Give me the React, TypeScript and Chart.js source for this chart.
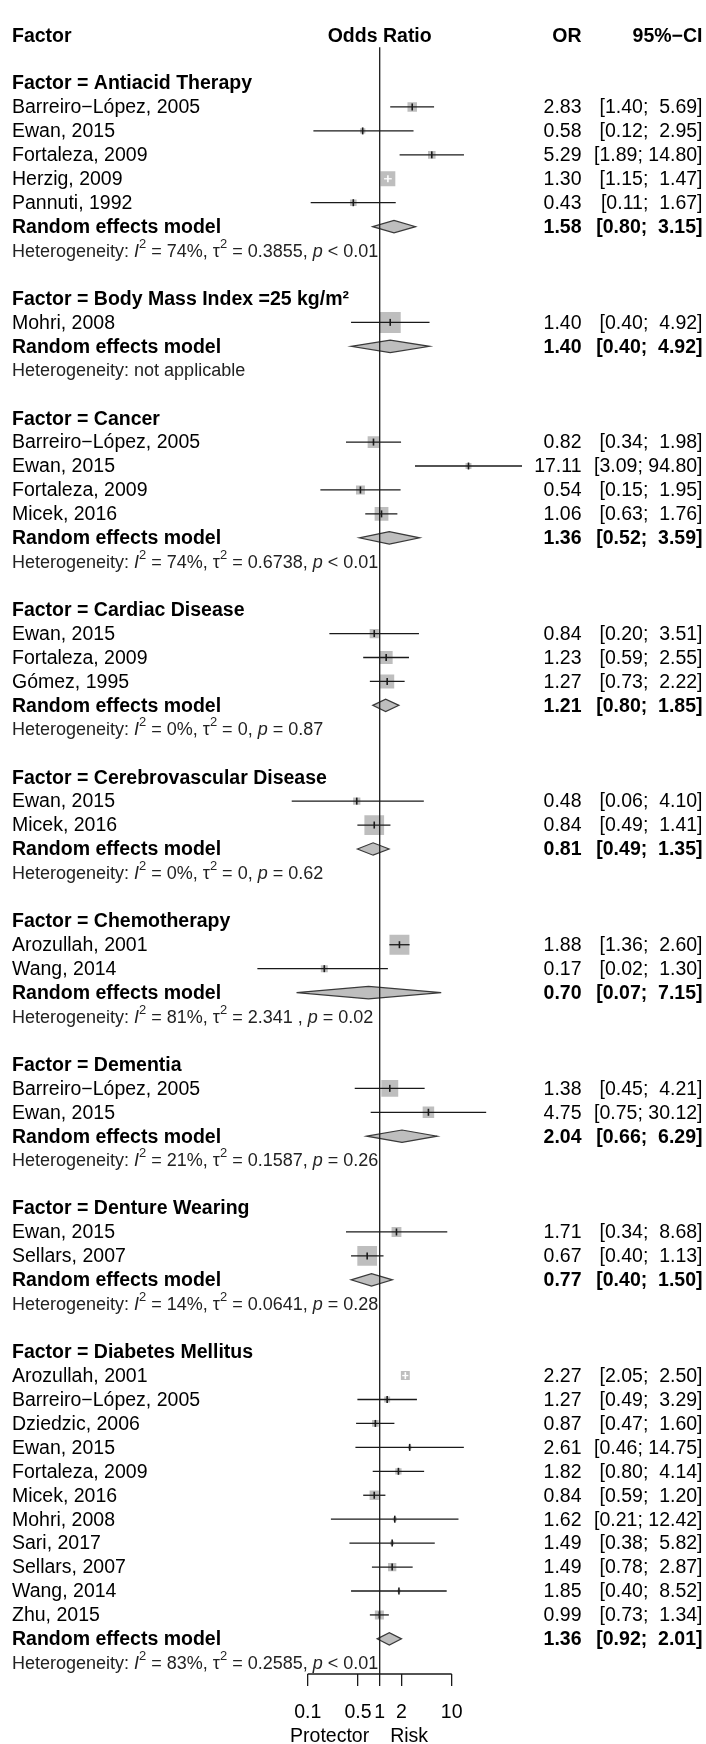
import React, { useEffect, useRef } from 'react';
import { Chart, registerables } from 'chart.js';

Chart.register(...registerables);

// ---------------- DATA ----------------
const groupNames = [
  'Antiacid Therapy',
  'Body Mass Index =25 kg/m²',
  'Cancer',
  'Cardiac Disease',
  'Cerebrovascular Disease',
  'Chemotherapy',
  'Dementia',
  'Denture Wearing',
  'Diabetes Mellitus',
];

const studyGroup = [0, 0, 0, 0, 0, 1, 2, 2, 2, 2, 3, 3, 3, 4, 4, 5, 5, 6, 6, 7, 7, 8, 8, 8, 8, 8, 8, 8, 8, 8, 8, 8];

const studyLabels = [
  'Barreiro−López, 2005', 'Ewan, 2015', 'Fortaleza, 2009', 'Herzig, 2009', 'Pannuti, 1992',
  'Mohri, 2008',
  'Barreiro−López, 2005', 'Ewan, 2015', 'Fortaleza, 2009', 'Micek, 2016',
  'Ewan, 2015', 'Fortaleza, 2009', 'Gómez, 1995',
  'Ewan, 2015', 'Micek, 2016',
  'Arozullah, 2001', 'Wang, 2014',
  'Barreiro−López, 2005', 'Ewan, 2015',
  'Ewan, 2015', 'Sellars, 2007',
  'Arozullah, 2001', 'Barreiro−López, 2005', 'Dziedzic, 2006', 'Ewan, 2015', 'Fortaleza, 2009',
  'Micek, 2016', 'Mohri, 2008', 'Sari, 2017', 'Sellars, 2007', 'Wang, 2014', 'Zhu, 2015',
];

const studyOR = [
  2.83, 0.58, 5.29, 1.30, 0.43,
  1.40,
  0.82, 17.11, 0.54, 1.06,
  0.84, 1.23, 1.27,
  0.48, 0.84,
  1.88, 0.17,
  1.38, 4.75,
  1.71, 0.67,
  2.27, 1.27, 0.87, 2.61, 1.82, 0.84, 1.62, 1.49, 1.49, 1.85, 0.99,
];

const studyLower = [
  1.40, 0.12, 1.89, 1.15, 0.11,
  0.40,
  0.34, 3.09, 0.15, 0.63,
  0.20, 0.59, 0.73,
  0.06, 0.49,
  1.36, 0.02,
  0.45, 0.75,
  0.34, 0.40,
  2.05, 0.49, 0.47, 0.46, 0.80, 0.59, 0.21, 0.38, 0.78, 0.40, 0.73,
];

const studyUpper = [
  5.69, 2.95, 14.80, 1.47, 1.67,
  4.92,
  1.98, 94.80, 1.95, 1.76,
  3.51, 2.55, 2.22,
  4.10, 1.41,
  2.60, 1.30,
  4.21, 30.12,
  8.68, 1.13,
  2.50, 3.29, 1.60, 14.75, 4.14, 1.20, 12.42, 5.82, 2.87, 8.52, 1.34,
];

// study weights (%) within each subgroup (drive the square sizes)
const studyWeight = [
  20.5, 6.5, 13, 50, 10,
  100,
  31, 8, 18, 43,
  19, 38, 45,
  12, 88,
  90, 11,
  65, 30,
  22, 88,
  18, 8, 10, 2.8, 9, 19.6, 3.6, 3.6, 15.6, 2.3, 18.4,
];

const pooledOR = [1.58, 1.40, 1.36, 1.21, 0.81, 0.70, 2.04, 0.77, 1.36];
const pooledLower = [0.80, 0.40, 0.52, 0.80, 0.49, 0.07, 0.66, 0.40, 0.92];
const pooledUpper = [3.15, 4.92, 3.59, 1.85, 1.35, 7.15, 6.29, 1.50, 2.01];

const hetI2 = ['74%', null, '74%', '0%', '0%', '81%', '21%', '14%', '83%'];
const hetTau2 = ['0.3855', null, '0.6738', '0', '0', '2.341 ', '0.1587', '0.0641', '0.2585'];
const hetP = ['< 0.01', null, '< 0.01', '= 0.87', '= 0.62', '= 0.02', '= 0.26', '= 0.28', '< 0.01'];

const axisTicks = [0.1, 0.5, 1, 2, 10];
const labelLeft = 'Protector';
const labelRight = 'Risk';

// ---------------- LAYOUT / STYLE ----------------
const W = 706;
const H = 1744;
const FONT = "'Liberation Sans', Arial, Helvetica, sans-serif";
const MAIN = 19.5;
const HET = 18;
const REF_X = 379.7;
const PX_DECADE = 72;
const ROW_PX = 24.15;
const FIRST_ROW_Y = 20.5;
const AXIS_H = 70;
const LEFT_X = 12;
const OR_RIGHT = 581.5;
const CI_RIGHT = 702.5;
const BOX_MAX = 21;
const GREY = '#bebebe';
const INK = '#1a1a1a';

function fmt(v: number) {
  return v.toFixed(2);
}
function ciText(lo: number, hi: number) {
  const h = fmt(hi);
  return '[' + fmt(lo) + '; ' + (h.length < 5 ? ' ' + h : h) + ']';
}

type Row = { kind: string; gi?: number; si?: number };

function buildRows(): Row[] {
  const rows: Row[] = [{ kind: 'colhead' }, { kind: 'blank' }];
  groupNames.forEach((_, gi) => {
    rows.push({ kind: 'group', gi });
    studyGroup.forEach((g, si) => {
      if (g === gi) rows.push({ kind: 'study', si, gi });
    });
    rows.push({ kind: 'pooled', gi });
    rows.push({ kind: 'het', gi });
    if (gi < groupNames.length - 1) rows.push({ kind: 'blank' });
  });
  return rows;
}

function text(ctx: CanvasRenderingContext2D, s: string, x: number, y: number, align: CanvasTextAlign, bold = false, size = MAIN, color = '#000') {
  ctx.font = `${bold ? 'bold ' : ''}${size}px ${FONT}`;
  ctx.textAlign = align;
  ctx.textBaseline = 'middle';
  ctx.fillStyle = color;
  ctx.fillText(s, x, y);
}

function drawHet(ctx: CanvasRenderingContext2D, gi: number, x: number, y: number) {
  const segs: { t: string; it?: boolean; sup?: boolean }[] =
    hetI2[gi] == null
      ? [{ t: 'Heterogeneity: not applicable' }]
      : [
          { t: 'Heterogeneity: ' },
          { t: 'I', it: true },
          { t: '2', sup: true },
          { t: ' = ' + hetI2[gi] + ', ' },
          { t: 'τ' },
          { t: '2', sup: true },
          { t: ' = ' + hetTau2[gi] + ', ' },
          { t: 'p', it: true },
          { t: ' ' + hetP[gi] },
        ];
  let cx = x;
  ctx.textAlign = 'left';
  ctx.textBaseline = 'middle';
  ctx.fillStyle = '#222';
  for (const s of segs) {
    const size = s.sup ? HET * 0.72 : HET;
    ctx.font = `${s.it ? 'italic ' : ''}${size}px ${FONT}`;
    ctx.fillText(s.t, cx, s.sup ? y - HET * 0.42 : y);
    cx += ctx.measureText(s.t).width;
  }
}

export default function App() {
  const ref = useRef<HTMLCanvasElement | null>(null);

  useEffect(() => {
    if (!ref.current) return;
    const rows = buildRows();
    const studyRow: number[] = [];
    const pooledRow: number[] = [];
    rows.forEach((r, i) => {
      if (r.kind === 'study') studyRow[r.si as number] = i;
      if (r.kind === 'pooled') pooledRow[r.gi as number] = i;
    });

    const boxSide = (w: number) => BOX_MAX * Math.sqrt(w / 100);

    const yMin = -FIRST_ROW_Y / ROW_PX;
    const yMax = yMin + (H - AXIS_H) / ROW_PX;
    const plotLeft = REF_X - 2 * PX_DECADE;
    const plotRight = REF_X + 2 * PX_DECADE;

    const forestPlugin = {
      id: 'forest',
      afterDatasetsDraw(chart: any) {
        const ctx: CanvasRenderingContext2D = chart.ctx;
        const xs = chart.scales.x;
        const ys = chart.scales.y;
        const X = (v: number) => xs.getPixelForValue(v);
        const Y = (v: number) => ys.getPixelForValue(v);
        ctx.save();

        // CI lines + estimate ticks
        studyOR.forEach((or, si) => {
          const y = Y(studyRow[si]);
          const x0 = X(studyLower[si]);
          const x1 = X(studyUpper[si]);
          const xc = X(or);
          const half = boxSide(studyWeight[si]) / 2;
          const inside = x0 >= xc - half && x1 <= xc + half;
          ctx.strokeStyle = inside ? '#ffffff' : INK;
          ctx.lineWidth = 1.3;
          ctx.beginPath();
          ctx.moveTo(x0, y);
          ctx.lineTo(x1, y);
          ctx.stroke();
          ctx.lineWidth = 1.6;
          ctx.beginPath();
          ctx.moveTo(xc, y - 3.5);
          ctx.lineTo(xc, y + 3.5);
          ctx.stroke();
        });

        // pooled diamonds
        pooledOR.forEach((or, gi) => {
          const y = Y(pooledRow[gi]);
          const dh = 6.2;
          ctx.beginPath();
          ctx.moveTo(X(pooledLower[gi]), y);
          ctx.lineTo(X(or), y - dh);
          ctx.lineTo(X(pooledUpper[gi]), y);
          ctx.lineTo(X(or), y + dh);
          ctx.closePath();
          ctx.fillStyle = GREY;
          ctx.fill();
          ctx.strokeStyle = '#3a3a3a';
          ctx.lineWidth = 1.2;
          ctx.stroke();
        });

        // reference line at OR = 1
        const bottom = chart.chartArea.bottom;
        ctx.strokeStyle = INK;
        ctx.lineWidth = 1.3;
        ctx.beginPath();
        ctx.moveTo(X(1), Y(0.5));
        ctx.lineTo(X(1), bottom);
        ctx.stroke();

        // axis baseline (only over tick range)
        ctx.beginPath();
        ctx.moveTo(X(axisTicks[0]), bottom);
        ctx.lineTo(X(axisTicks[axisTicks.length - 1]), bottom);
        ctx.stroke();

        // table text
        rows.forEach((r, i) => {
          const y = Y(i) + 1;
          if (r.kind === 'colhead') {
            text(ctx, 'Factor', LEFT_X, y, 'left', true);
            text(ctx, 'Odds Ratio', X(1), y, 'center', true);
            text(ctx, 'OR', OR_RIGHT, y, 'right', true);
            text(ctx, '95%−CI', CI_RIGHT, y, 'right', true);
          } else if (r.kind === 'group') {
            text(ctx, 'Factor = ' + groupNames[r.gi as number], LEFT_X, y, 'left', true);
          } else if (r.kind === 'study') {
            const si = r.si as number;
            text(ctx, studyLabels[si], LEFT_X, y, 'left');
            text(ctx, fmt(studyOR[si]), OR_RIGHT, y, 'right');
            text(ctx, ciText(studyLower[si], studyUpper[si]), CI_RIGHT, y, 'right');
          } else if (r.kind === 'pooled') {
            const gi = r.gi as number;
            text(ctx, 'Random effects model', LEFT_X, y, 'left', true);
            text(ctx, fmt(pooledOR[gi]), OR_RIGHT, y, 'right', true);
            text(ctx, ciText(pooledLower[gi], pooledUpper[gi]), CI_RIGHT, y, 'right', true);
          } else if (r.kind === 'het') {
            drawHet(ctx, r.gi as number, LEFT_X, y);
          }
        });

        // axis side labels
        const ly = bottom + 62.5;
        text(ctx, labelLeft, X(1) - 10.5, ly, 'right');
        text(ctx, labelRight, X(1) + 10.5, ly, 'left');

        ctx.restore();
      },
    };

    const chart = new Chart(ref.current, {
      type: 'scatter',
      data: {
        datasets: [
          {
            data: studyOR.map((or, si) => ({ x: or, y: studyRow[si] })),
            pointStyle: 'rect',
            pointRadius: studyWeight.map((w) => boxSide(w) / Math.SQRT2),
            backgroundColor: GREY,
            borderWidth: 0,
            borderColor: GREY,
          },
        ],
      },
      options: {
        responsive: false,
        animation: false,
        events: [],
        layout: { padding: { left: plotLeft, right: W - plotRight, top: 0, bottom: 0 } },
        plugins: { legend: { display: false }, tooltip: { enabled: false } },
        scales: {
          x: {
            type: 'logarithmic',
            min: 0.01,
            max: 100,
            afterBuildTicks: (s: any) => {
              s.ticks = axisTicks.map((v) => ({ value: v }));
            },
            afterFit: (s: any) => {
              s.height = AXIS_H;
            },
            border: { display: false },
            grid: { drawOnChartArea: false, drawTicks: true, tickLength: 12, color: INK, lineWidth: 1.3 },
            ticks: {
              autoSkip: false,
              maxRotation: 0,
              minRotation: 0,
              padding: 15,
              color: '#000',
              font: { family: FONT, size: MAIN },
              callback: (v: any) => String(v),
            },
          },
          y: {
            type: 'linear',
            reverse: true,
            min: yMin,
            max: yMax,
            display: false,
          },
        },
      },
      plugins: [forestPlugin],
    } as any);

    return () => chart.destroy();
  }, []);

  return (
    <div style={{ position: 'absolute', left: 0, top: 0, width: W, height: H, background: '#fff' }}>
      <canvas ref={ref} width={W} height={H} style={{ display: 'block' }} />
    </div>
  );
}
